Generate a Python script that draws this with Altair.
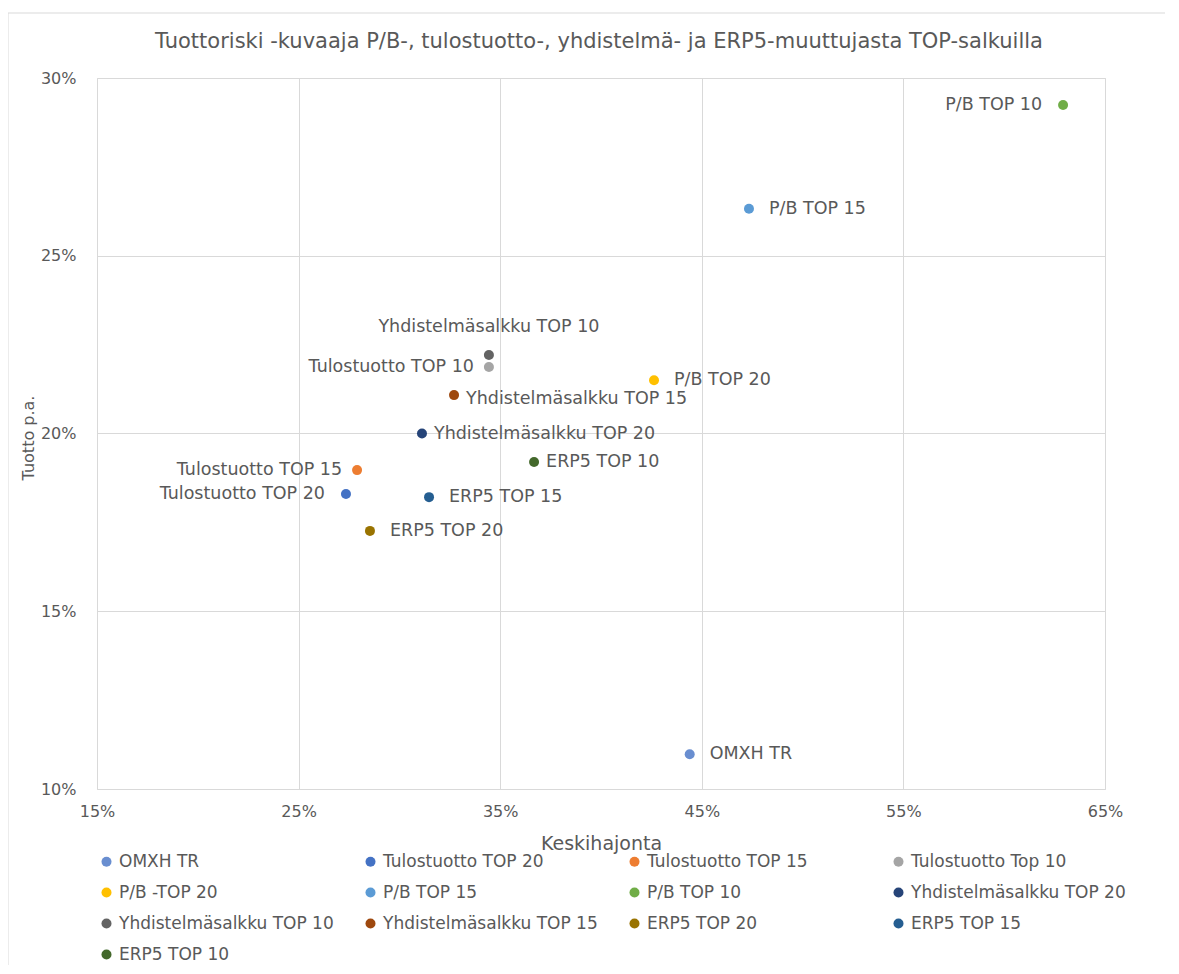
import altair as alt
import pandas as pd

# ---- data ----
series = ["OMXH TR", "Tulostuotto TOP 20", "Tulostuotto TOP 15", "Tulostuotto Top 10",
          "P/B -TOP 20", "P/B TOP 15", "P/B TOP 10", "Yhdistelmäsalkku TOP 20",
          "Yhdistelmäsalkku TOP 10", "Yhdistelmäsalkku TOP 15", "ERP5 TOP 20",
          "ERP5 TOP 15", "ERP5 TOP 10"]
point_labels = ["OMXH TR", "Tulostuotto TOP 20", "Tulostuotto TOP 15", "Tulostuotto TOP 10",
                "P/B TOP 20", "P/B TOP 15", "P/B TOP 10", "Yhdistelmäsalkku TOP 20",
                "Yhdistelmäsalkku TOP 10", "Yhdistelmäsalkku TOP 15", "ERP5 TOP 20",
                "ERP5 TOP 15", "ERP5 TOP 10"]
stdev = [0.444, 0.2735, 0.279, 0.3444, 0.4263, 0.4734, 0.6292, 0.3112,
         0.3444, 0.3271, 0.2854, 0.3147, 0.3668]
returns = [0.1098, 0.1830, 0.1897, 0.2187, 0.2150, 0.2632, 0.2924, 0.2000,
           0.2221, 0.2108, 0.1726, 0.1821, 0.1920]
colors = ["#698ED0", "#4472C4", "#ED7D31", "#A5A5A5", "#FFC000", "#5B9BD5", "#70AD47",
          "#264478", "#636363", "#9E480E", "#997300", "#255E91", "#43682B"]
x_ticks = [0.15, 0.25, 0.35, 0.45, 0.55, 0.65]
y_ticks = [0.10, 0.15, 0.20, 0.25, 0.30]
title_text = "Tuottoriski -kuvaaja P/B-, tulostuotto-, yhdistelmä- ja ERP5-muuttujasta TOP-salkuilla"

df = pd.DataFrame({"series": series, "label": point_labels, "std": stdev, "ret": returns})

TXT = "#595959"
GRID = "#D9D9D9"
FONT = "DejaVu Sans"

W, H = 1008, 711

xenc = alt.X("std:Q", scale=alt.Scale(domain=[0.15, 0.65], nice=False, zero=False),
             axis=alt.Axis(values=x_ticks, format=".0%", title="Keskihajonta",
                           grid=True, gridColor=GRID, domain=False, ticks=False,
                           labelFlush=False,
                           labelPadding=14, labelFontSize=16, labelFont=FONT, labelColor=TXT,
                           titleFontSize=19, titleFont=FONT, titleColor=TXT, titleFontWeight="normal",
                           titleY=54, titleBaseline="middle"))
yenc = alt.Y("ret:Q", scale=alt.Scale(domain=[0.10, 0.30], nice=False, zero=False),
             axis=alt.Axis(values=y_ticks, format=".0%", title="Tuotto p.a.",
                           grid=True, gridColor=GRID, domain=False, ticks=False,
                           labelFlush=False,
                           labelPadding=21, labelFontSize=16, labelFont=FONT, labelColor=TXT,
                           titleFontSize=16, titleFont=FONT, titleColor=TXT, titleFontWeight="normal",
                           titleX=-61, titleY=H / 2 + 4))

base = alt.Chart(df)

points = base.mark_circle(size=100, opacity=1).encode(
    x=xenc, y=yenc,
    color=alt.Color("series:N",
                    scale=alt.Scale(domain=series, range=colors),
                    legend=alt.Legend(orient="none", legendX=1, legendY=775, columns=4,
                                      direction="horizontal",
                                      title=None, symbolType="circle", symbolSize=100,
                                      symbolStrokeWidth=0, labelFontSize=17, labelFont=FONT,
                                      labelColor=TXT, labelLimit=400, gridAlign="all",
                                      columnPadding=28, rowPadding=13, labelOffset=4,
                                      padding=0)),
)


def labels(names, dx, dy, align):
    return base.transform_filter(
        alt.FieldOneOfPredicate(field="label", oneOf=names)
    ).mark_text(align=align, baseline="middle", dx=dx, dy=dy, fontSize=17.5,
                font=FONT, color=TXT).encode(x="std:Q", y="ret:Q", text="label:N")


lab_right_far = labels(["OMXH TR", "P/B TOP 15", "P/B TOP 20", "ERP5 TOP 15", "ERP5 TOP 20"], 20, 0, "left")
lab_right_near = labels(["ERP5 TOP 10", "Yhdistelmäsalkku TOP 20"], 12, 0, "left")
lab_right_low = labels(["Yhdistelmäsalkku TOP 15"], 12, 4, "left")
lab_left = labels(["Tulostuotto TOP 10", "Tulostuotto TOP 15"], -15, 0, "right")
lab_left_far = labels(["Tulostuotto TOP 20", "P/B TOP 10"], -21, 0, "right")
lab_above = labels(["Yhdistelmäsalkku TOP 10"], 0, -28, "center")

one = alt.Data(values=[{}])
frame_top = alt.Chart(one).mark_rule(color=GRID, strokeWidth=1).encode(
    x=alt.value(-89), x2=alt.value(W + 80), y=alt.value(-65))
frame_left = alt.Chart(one).mark_rule(color=GRID, strokeWidth=1).encode(
    x=alt.value(-89), y=alt.value(-65), y2=alt.value(H + 200))
title = alt.Chart(one).mark_text(fontSize=21, font=FONT, color=TXT, align="center",
                                 baseline="middle").encode(
    x=alt.value(W / 2 - 2), y=alt.value(-36), text=alt.value(title_text))

chart = alt.layer(
    frame_top, frame_left, title, points,
    lab_right_far, lab_right_near, lab_right_low, lab_left, lab_left_far, lab_above
).properties(
    width=W, height=H,
    autosize=alt.AutoSizeParams(type="none"),
    padding={"left": 89, "top": 70, "right": 60, "bottom": 176},
).configure_view(stroke=None).configure(background="white")

chart.save("out.html", embed_options={"renderer": "svg", "actions": False})
